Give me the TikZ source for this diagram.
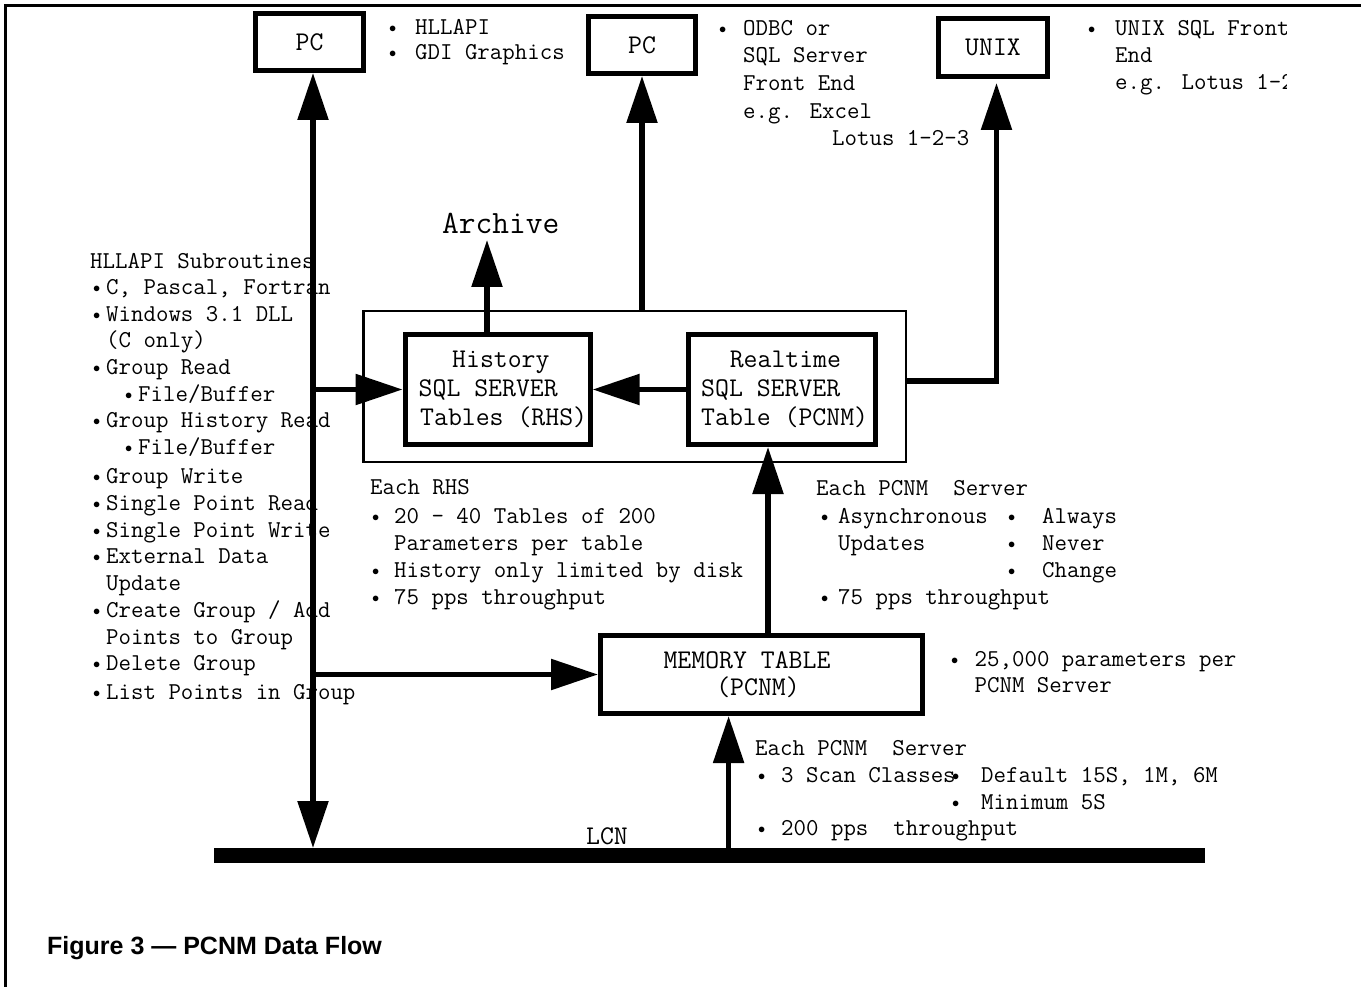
\documentclass[tikz,border=0pt]{standalone}
\usepackage{fontspec}
\newfontfamily\capfont{Liberation Sans}
\usetikzlibrary{arrows.meta,calc}
\newcommand\annfont{\ttfamily\fontsize{24.2pt}{26pt}\selectfont}
\newcommand\boxfont{\ttfamily\fontsize{27pt}{29pt}\selectfont}
\newcommand\bu[1]{\makebox[#1][l]{\raisebox{1.7pt}{\fontsize{14pt}{14pt}\selectfont$\bullet$}}}
\begin{document}
\begin{tikzpicture}[x=1pt,y=-1pt,
  ann/.style={font=\annfont,text height=14.8pt,text depth=0pt,inner sep=0pt,anchor=west},
  btxt/.style={font=\boxfont,text height=16.5pt,text depth=0pt,inner sep=0pt},
  thickbox/.style={draw,line width=5pt,inner sep=0pt,font=\boxfont},
  thinbox/.style={draw,line width=2.5pt,inner sep=0pt},
  flow/.style={line width=5.5pt,line join=miter,-{Triangle[length=47pt,width=30pt]}},
  flowboth/.style={line width=5.5pt,{Triangle[length=47pt,width=30pt]}-{Triangle[length=47pt,width=30pt]}}]
\useasboundingbox (0,0) rectangle (1361,987);
% frame
\draw[line width=3pt] (5,987) -- (5,6) -- (1361,6);
% boxes
\node[thickbox,minimum width=108pt,minimum height=57pt] (pc1) at (309.5,42) {PC};
\node[thickbox,minimum width=107pt,minimum height=57pt] (pc2) at (642,45) {PC};
\node[thickbox,minimum width=109pt,minimum height=58pt] (unix) at (993,47.5) {UNIX};
\node[thinbox,minimum width=542.5pt,minimum height=150.5pt] (outer) at (634.5,386.5) {};
\node[thickbox,minimum width=185pt,minimum height=110pt] (hist) at (497.6,389.5) {};
\node[thickbox,minimum width=187.5pt,minimum height=110pt] (rt) at (781.75,389.5) {};
\node[thickbox,minimum width=322pt,minimum height=78pt] (mem) at (761.5,674.5) {};
\node[fill=black,minimum width=991pt,minimum height=15pt,inner sep=0pt] (lcn) at (709.5,855.5) {};
% box texts
\node[btxt,anchor=west] (h1) at (452,359) {History};
\node[btxt,anchor=west] (h2) at (418.5,388) {SQL SERVER};
\node[btxt,anchor=west] (h3) at (420,417) {Tables (RHS)};
\node[btxt,anchor=west] (r1) at (729.6,359) {Realtime};
\node[btxt,anchor=west] (r2) at (701,388) {SQL SERVER};
\node[btxt,anchor=west] (r3) at (701,417) {Table (PCNM)};
\node[btxt] (m1) at (747,660) {MEMORY TABLE};
\node[btxt] (m2) at (758,687) {(PCNM)};
\node[btxt] (lcnl) at (607,836) {LCN};
\node[font=\ttfamily\fontsize{32.5pt}{34pt}\selectfont,text height=19.9pt,text depth=0pt,inner sep=0pt,anchor=west] (arch) at (442,224) {Archive};
% top annotations
\node[ann] (a1) at (389,27) {\bu{26pt}HLLAPI};
\node[ann] (a2) at (389,52) {\bu{26pt}GDI Graphics};
\node[ann] (b1) at (719,28) {\bu{24pt}ODBC or};
\node[ann] (b2) at (743,55) {SQL Server};
\node[ann] (b3) at (743,83) {Front End};
\node[ann] (b4) at (743,111) {e.g. Excel};
\node[ann] (b5) at (832,138) {Lotus 1-2-3};
\begin{scope}
\clip (1080,10) rectangle (1286,120);
\node[ann] (c1) at (1088,28) {\bu{27pt}UNIX SQL Front};
\node[ann] (c2) at (1115,55) {End};
\node[ann] (c3) at (1115,82) {e.g. Lotus 1-2-3};
\end{scope}
% left list
\node[ann] (l0) at (90,261) {HLLAPI Subroutines};
\node[ann] (l1) at (93,287) {\bu{13pt}C, Pascal, Fortran};
\node[ann] (l2) at (93,314) {\bu{13pt}Windows 3.1 DLL};
\node[ann] (l3) at (106,340) {(C only)};
\node[ann] (l4) at (93,367) {\bu{13pt}Group Read};
\node[ann] (l5) at (125,394) {\bu{13pt}File/Buffer};
\node[ann] (l6) at (93,420) {\bu{13pt}Group History Read};
\node[ann] (l7) at (125,447) {\bu{13pt}File/Buffer};
\node[ann] (l8) at (93,476) {\bu{13pt}Group Write};
\node[ann] (l9) at (93,503) {\bu{13pt}Single Point Read};
\node[ann] (l10) at (93,530) {\bu{13pt}Single Point Write};
\node[ann] (l11) at (93,556) {\bu{13pt}External Data};
\node[ann] (l12) at (106,583) {Update};
\node[ann] (l13) at (93,610) {\bu{13pt}Create Group / Add};
\node[ann] (l14) at (106,637) {Points to Group};
\node[ann] (l15) at (93,663) {\bu{13pt}Delete Group};
\node[ann] (l16) at (93,692) {\bu{13pt}List Points in Group};
% RHS block
\node[ann] (e0) at (370,487) {Each RHS};
\node[ann] (e1) at (372,516) {\bu{22pt}20 - 40 Tables of 200};
\node[ann] (e2) at (394,543) {Parameters per table};
\node[ann] (e3) at (372,570) {\bu{22pt}History only limited by disk};
\node[ann] (e4) at (372,597) {\bu{22pt}75 pps throughput};
% PCNM block
\node[ann] (p0) at (816,488) {Each PCNM\ \ Server};
\node[ann] (p1) at (821,516) {\bu{17pt}Asynchronous};
\node[ann] (p2) at (838,543) {Updates};
\node[ann] (p3) at (1008,516) {\bu{34pt}Always};
\node[ann] (p4) at (1008,543) {\bu{34pt}Never};
\node[ann] (p5) at (1008,570) {\bu{34pt}Change};
\node[ann] (p6) at (821,597) {\bu{17pt}75 pps throughput};
% memory annotation
\node[ann] (q1) at (951,659) {\bu{23.5pt}25,000 parameters per};
\node[ann] (q2) at (974.5,685) {PCNM Server};
% bottom block
\node[ann] (s0) at (755,748) {Each PCNM\ \ Server};
\node[ann] (s1) at (758,775) {\bu{23pt}3 Scan Classes};
\node[ann] (s2) at (952,775) {\bu{29pt}Default 15S, 1M, 6M};
\node[ann] (s3) at (952,802) {\bu{29pt}Minimum 5S};
\node[ann] (s4) at (758,828) {\bu{23pt}200 pps\ \ throughput};
% caption
\node[font=\capfont\bfseries\fontsize{25pt}{27pt}\selectfont,anchor=west,inner sep=0pt,text height=18pt,text depth=0pt] (cap) at (47,945) {Figure 3 — PCNM Data Flow};
% connectors
\coordinate (tap) at (313,848);
\coordinate (archtip) at (487,240);
\coordinate (ux) at (996.5,381);
\coordinate (mr) at (768,500);
\coordinate (lm) at (728.6,800);
\draw[flowboth] (tap) -- (tap |- pc1.south);
\draw[flow] (tap |- hist.west) -- (hist.west);
\draw[flow] (tap |- mem.west) -- (mem.west);
\draw[flow] (rt.west) -- (hist.east);
\draw[flow] (archtip |- hist.north) -- (archtip);
\draw[flow] (outer.north -| pc2.south) -- (pc2.south);
\draw[flow,shorten >=4pt] (outer.east |- ux) -- (ux) -- (ux |- unix.south);
\draw[flow] (mem.north -| mr) -- (rt.south -| mr);
\draw[flow] (lcn.north -| lm) -- (mem.south -| lm);
\end{tikzpicture}
\end{document}
